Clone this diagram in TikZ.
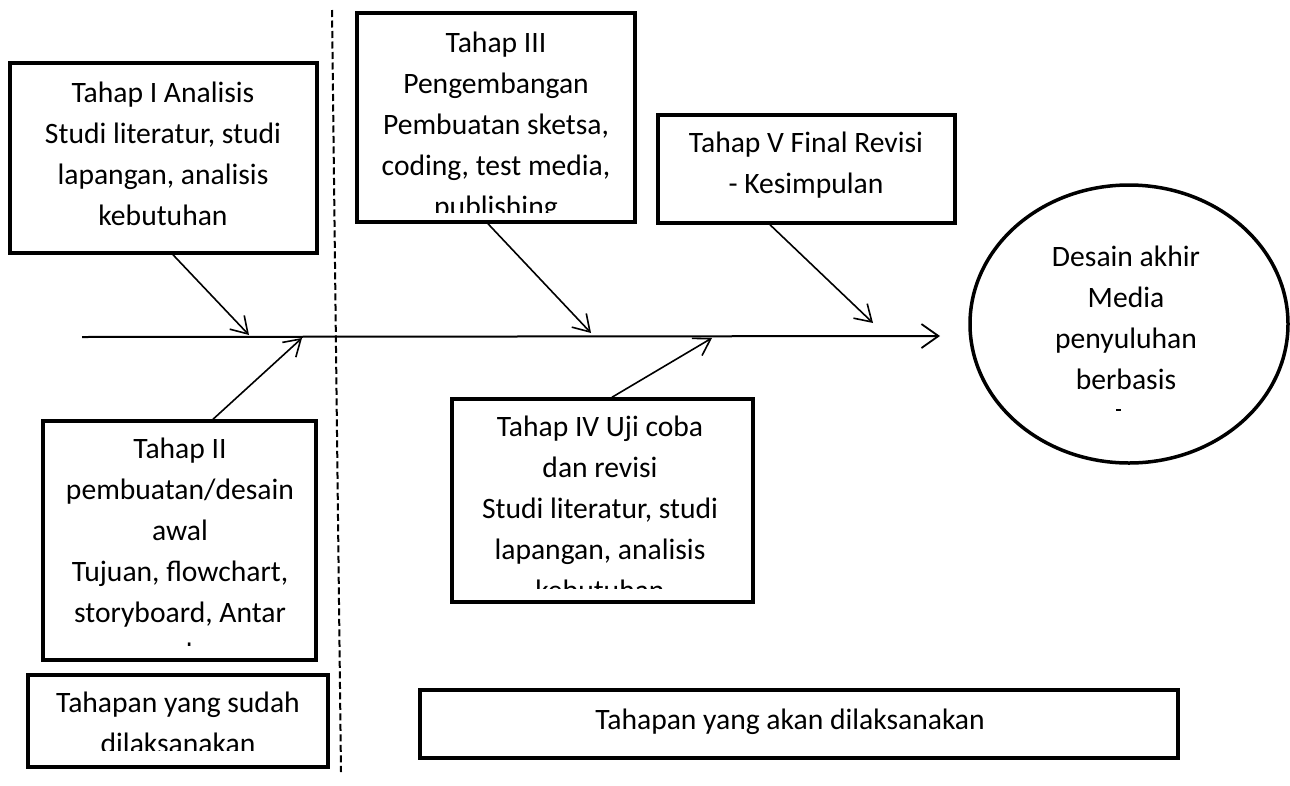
\documentclass[tikz,border=0pt]{standalone}
\usepackage{fontspec}
\setmainfont{Carlito}
\usetikzlibrary{arrows.meta,shapes.geometric}
\tikzset{
  box/.style={draw=black, line width=3.5pt, rectangle, inner sep=0pt},
  oval/.style={draw=black, line width=3.5pt, ellipse, inner sep=0pt},
  txt/.style={inner sep=0pt, align=center, anchor=north, font=\fontsize{29.6}{41}\selectfont},
  stxt/.style={inner sep=0pt, anchor=base, font=\fontsize{29.6}{41}\selectfont},
  conn/.style={line width=1.6pt, -{Straight Barb[length=16pt, width=20pt, line width=1.6pt]}},
  spine/.style={line width=2pt, -{Straight Barb[length=17pt, width=24pt, line width=1.8pt]}},
  divider/.style={line width=2pt, dash pattern=on 7pt off 3.5pt}
}
\begin{document}
\begin{tikzpicture}[x=1pt, y=-1pt]
\useasboundingbox (0,0) rectangle (1290,785);
\fill[white] (0,0) rectangle (1290,785);

% divider
\coordinate (dtop) at (332,10);
\coordinate (dbot) at (341,772);
\draw[divider] (dtop) -- (dbot);

% boxes
\node[box, minimum width=307pt, minimum height=190pt] (t1) at (163.5,158) {};
\node[box, minimum width=278pt, minimum height=209pt] (t3) at (496,117.5) {};
\node[box, minimum width=297pt, minimum height=108pt] (t5) at (806.5,169) {};
\node[box, minimum width=273pt, minimum height=239pt] (t2) at (179.5,540.5) {};
\node[box, minimum width=301pt, minimum height=203pt] (t4) at (602.5,500.5) {};
\node[box, minimum width=300pt, minimum height=92pt] (sud) at (178,721) {};
\node[box, minimum width=758pt, minimum height=68pt] (akan) at (799,724) {};
\node[oval, minimum width=318pt, minimum height=278pt] (akhir) at (1129,324) {};

% texts
\node[txt] (t1txt) at (163,73.3) {\strut Tahap I Analisis\\Studi literatur, studi\\lapangan, analisis\\kebutuhan};

\begin{scope}
\clip (359,15) rectangle (633,212);
\node[txt] (t3txt) at (496,23.3) {\strut Tahap III\\Pengembangan\\Pembuatan sketsa,\\coding, test media,\\publishing};
\end{scope}

\node[txt] (t5txt) at (806,123.3) {\strut Tahap V Final Revisi\\- Kesimpulan};

\node[txt] (akhirtxt) at (1126,237.3) {\strut Desain akhir\\Media\\penyuluhan\\berbasis};
\coordinate (m1) at (1116,410);
\coordinate (m2) at (1121,410);
\draw[line width=1.5pt] (m1) -- (m2);

\begin{scope}
\clip (45,423) rectangle (314,645);
\node[txt] (t2txt) at (180,429.3) {\strut Tahap II\\pembuatan/desain\\awal\\Tujuan, flowchart,\\storyboard, Antar\\muka};
\end{scope}

\begin{scope}
\clip (454,401) rectangle (751,588);
\node[txt] (t4txt) at (600,407.3) {\strut Tahap IV Uji coba\\dan revisi\\Studi literatur, studi\\lapangan, analisis\\kebutuhan};
\end{scope}

\begin{scope}
\clip (30,677) rectangle (326,750);
\node[txt] (sudtxt) at (178,683.3) {\strut Tahapan yang sudah\\dilaksanakan};
\end{scope}

\node[stxt] (akantxt) at (790,729) {Tahapan yang akan dilaksanakan};

% spine
\coordinate (sstart) at (82,337);
\coordinate (send) at (940,336);
\draw[spine] (sstart) -- (send);

% connectors
\coordinate (p1) at (249,335);
\coordinate (p2) at (302,338);
\coordinate (p3) at (591,333);
\coordinate (p4) at (712,338);
\coordinate (p5) at (873,323);
\draw[conn] ([xshift=9.5pt]t1.south) -- (p1);
\draw[conn] ([xshift=33.5pt]t2.north) -- (p2);
\draw[conn] ([xshift=-8pt]t3.south) -- (p3);
\draw[conn] ([xshift=9.5pt]t4.north) -- (p4);
\draw[conn] ([xshift=-36.5pt]t5.south) -- (p5);
\end{tikzpicture}
\end{document}
